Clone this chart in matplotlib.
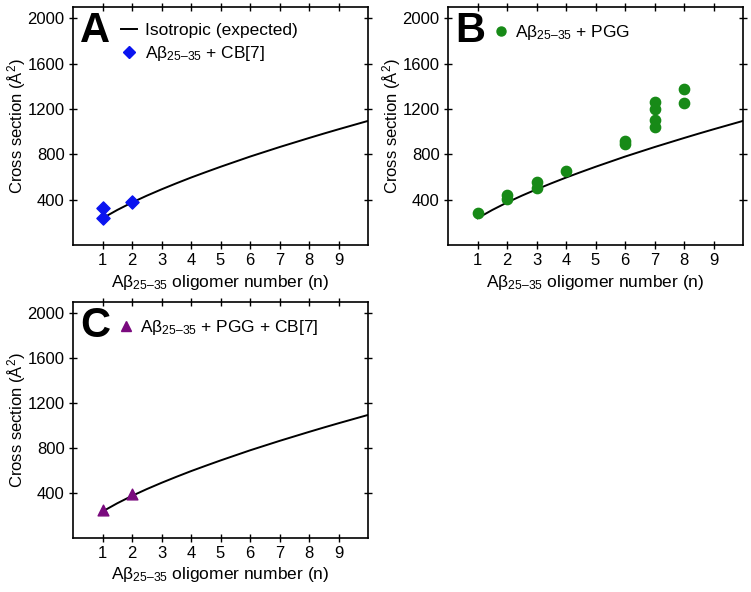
import numpy as np
from matplotlib import pyplot as plt
from matplotlib.lines import Line2D

plt.rcParams['font.family'] = ['Liberation Sans', 'DejaVu Sans']
plt.rcParams['mathtext.fontset'] = 'custom'
plt.rcParams['mathtext.rm'] = 'Liberation Sans'
plt.rcParams['mathtext.it'] = 'Liberation Sans:italic'
plt.rcParams['xtick.labelsize'] = 12
plt.rcParams['ytick.labelsize'] = 12

# expected isotropic cross sections
iso_n = [1, 1.5, 2, 2.5, 3, 3.5, 4, 4.5, 5, 5.5, 6, 6.5, 7, 7.5, 8, 8.5, 9, 9.5, 10]
iso_cs = [236, 309, 375, 435, 491, 544, 595, 643, 690, 735, 780, 822, 864, 904,
          944, 983, 1021, 1058, 1095]

# panel A: Abeta + CB[7]
a_n = [1, 1, 2]
a_cs = [330, 240, 376]
# panel B: Abeta + PGG
b_n = [1, 2, 2, 3, 3, 4, 6, 6, 7, 7, 7, 7, 8, 8]
b_cs = [283, 444, 404, 555, 506, 650, 922, 895, 1266, 1200, 1102, 1038, 1375, 1250]
# panel C: Abeta + PGG + CB[7]
c_n = [1, 2]
c_cs = [245, 390]

ab = 'Aβ$_{\\mathregular{25–35}}$'

fig = plt.figure(figsize=(7.51, 5.92), dpi=100)
W, H = 751, 592
boxes = [(73, 7, 368, 245), (448, 7, 743, 245), (73, 302, 368, 538)]


def make_ax(box):
    x0, y0, x1, y1 = box
    ax = fig.add_axes([x0 / W, 1 - y1 / H, (x1 - x0) / W, (y1 - y0) / H])
    ax.set_xlim(0, 10)
    ax.set_ylim(0, 2100)
    ax.set_xticks(range(1, 10))
    ax.set_yticks([400, 800, 1200, 1600, 2000])
    ax.tick_params(direction='inout', length=6, width=1, top=True, right=True, pad=3)
    for s in ax.spines.values():
        s.set_linewidth(1.2)
    ax.set_xlabel(ab + ' oligomer number (n)', fontsize=12.5, labelpad=3)
    ax.set_ylabel('Cross section (Å$^2$)', fontsize=12, labelpad=0)
    ax.plot(iso_n, iso_cs, color='k', lw=1.4, zorder=2)
    return ax


axA = make_ax(boxes[0])
axA.scatter(a_n, a_cs, marker='D', s=45, color='#0a14f0', zorder=3)
axA.text(0.025, 0.985, 'A', transform=axA.transAxes, fontsize=30, fontweight='bold', va='top', ha='left')
h = [Line2D([], [], color='k', lw=1.4),
     Line2D([], [], marker='D', ls='', color='#0a14f0', ms=6)]
axA.legend(h, ['Isotropic (expected)', ab + ' + CB[7]'], loc='upper left',
           bbox_to_anchor=(0.11, 1.0), frameon=False, fontsize=12.5,
           handlelength=0.9, handletextpad=0.5, labelspacing=0.35)

axB = make_ax(boxes[1])
axB.scatter(b_n, b_cs, marker='o', s=55, color='#178a17', zorder=3)
axB.text(0.025, 0.985, 'B', transform=axB.transAxes, fontsize=30, fontweight='bold', va='top', ha='left')
h = [Line2D([], [], marker='o', ls='', color='#178a17', ms=6.5)]
axB.legend(h, [ab + ' + PGG'], loc='upper left', bbox_to_anchor=(0.11, 1.0),
           frameon=False, fontsize=12.5, handlelength=0.6, handletextpad=0.5)

axC = make_ax(boxes[2])
axC.scatter(c_n, c_cs, marker='^', s=60, color='#7a0a7e', zorder=3)
axC.text(0.025, 0.985, 'C', transform=axC.transAxes, fontsize=30, fontweight='bold', va='top', ha='left')
h = [Line2D([], [], marker='^', ls='', color='#7a0a7e', ms=6.5)]
axC.legend(h, [ab + ' + PGG + CB[7]'], loc='upper left', bbox_to_anchor=(0.11, 1.0),
           frameon=False, fontsize=12.5, handlelength=0.6, handletextpad=0.5)

fig.savefig('out.png', dpi=100)
